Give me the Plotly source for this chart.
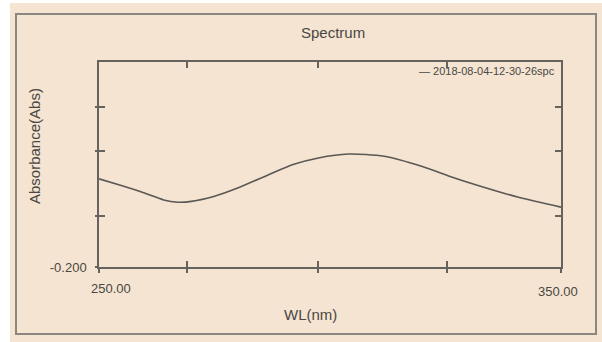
import plotly.graph_objects as go

# ---- data ----
series_name = "2018-08-04-12-30-26spc"
wavelength = [250, 255, 260, 264, 267, 270, 275, 280, 286.7, 292, 297.5, 304, 311.7, 320, 326, 331.7, 340.8, 350]
absorbance = [0.230, 0.196, 0.160, 0.127, 0.116, 0.120, 0.145, 0.185, 0.250, 0.300, 0.332, 0.351, 0.340, 0.290, 0.242, 0.200, 0.140, 0.092]
x_tickvals = [250, 269.0, 297.4, 325.3, 350]
x_ticklabels = ["250.00", "", "", "", "350.00"]
y_tickvals = [-0.2, 0.049, 0.366, 0.580]
y_ticklabels = ["-0.200", "", "", ""]
x_range = [250, 350]
y_range = [-0.2, 0.8]

W, H = 602, 342
L, R, T, B = 99, 561, 62, 267
BEIGE = "#F4E4D1"
AX = "#66625e"
TXT = "#4a4744"
FONT = "Liberation Sans, Arial, sans-serif"

def px(xp):
    return (xp - L) / (R - L)

def py(yp):
    return (B - yp) / (B - T)

fig = go.Figure()
fig.add_trace(go.Scatter(x=wavelength, y=absorbance, mode="lines", name=series_name,
                         line=dict(color="#5a5754", width=1.6, shape="spline", smoothing=0.7),
                         showlegend=False, hoverinfo="skip"))
# helper trace to activate the overlay axes (for crossing ticks)
fig.add_trace(go.Scatter(x=x_range, y=y_range, xaxis="x2", yaxis="y2", mode="lines",
                         line=dict(width=0), opacity=0, showlegend=False, hoverinfo="skip"))

common = dict(showgrid=False, zeroline=False, tickcolor=AX, tickwidth=1.5)
fig.update_layout(
    width=W, height=H,
    margin=dict(l=L, r=W - R, t=T, b=H - B, pad=0),
    paper_bgcolor=BEIGE, plot_bgcolor=BEIGE,
    font=dict(family=FONT, color=TXT),
    xaxis=dict(range=x_range, tickvals=x_tickvals, ticktext=x_ticklabels, showticklabels=False,
               ticks="inside", ticklen=6, mirror="ticks", showline=True, linecolor=AX, linewidth=1.5, **common),
    yaxis=dict(range=y_range, tickvals=y_tickvals, ticktext=y_ticklabels, showticklabels=True,
               ticks="inside", ticklen=6, mirror="ticks", showline=True, linecolor=AX, linewidth=1.5,
               tickfont=dict(size=13, color=TXT), ticklabelstandoff=8, **common),
    xaxis2=dict(range=x_range, overlaying="x", side="bottom", tickvals=x_tickvals, showticklabels=False,
                ticks="outside", ticklen=5, showline=False, **common),
    yaxis2=dict(range=y_range, overlaying="y", side="left", tickvals=y_tickvals, showticklabels=False,
                ticks="outside", ticklen=3, showline=False, **common),
)

shapes = [
    # white margins of the screenshot
    dict(type="rect", xref="paper", yref="paper", x0=px(0), x1=px(10), y0=py(0), y1=py(H), fillcolor="white", line_width=0, layer="above"),
    dict(type="rect", xref="paper", yref="paper", x0=px(0), x1=px(W), y0=py(0), y1=py(3), fillcolor="white", line_width=0, layer="above"),
    # outer frame
    dict(type="rect", xref="paper", yref="paper", x0=px(16), x1=px(596), y0=py(14), y1=py(334),
         line=dict(color="#8c8680", width=2), fillcolor="rgba(0,0,0,0)", layer="above"),
]
fig.update_layout(shapes=shapes)

ann = [
    dict(text="Spectrum", x=px(333), y=py(32), font=dict(size=15, color=TXT)),
    dict(text="WL(nm)", x=px(310), y=py(314), font=dict(size=15, color=TXT)),
    dict(text="Absorbance(Abs)", x=px(34), y=py(146), textangle=-90, font=dict(size=15, color=TXT)),
    dict(text="\u2014 " + series_name, x=px(557), y=py(71), xanchor="right", font=dict(size=11, color=TXT)),
    dict(text=x_ticklabels[0], x=px(111), y=py(288), font=dict(size=13, color=TXT)),
    dict(text=x_ticklabels[-1], x=px(558), y=py(291), font=dict(size=13, color=TXT)),
]
for a in ann:
    a.setdefault("xanchor", "center")
    a.update(xref="paper", yref="paper", yanchor="middle", showarrow=False)
fig.update_layout(annotations=ann)

fig.write_html("out.html", config={"displayModeBar": False},
               post_script="document.body.style.margin='0';document.body.style.padding='0';")
